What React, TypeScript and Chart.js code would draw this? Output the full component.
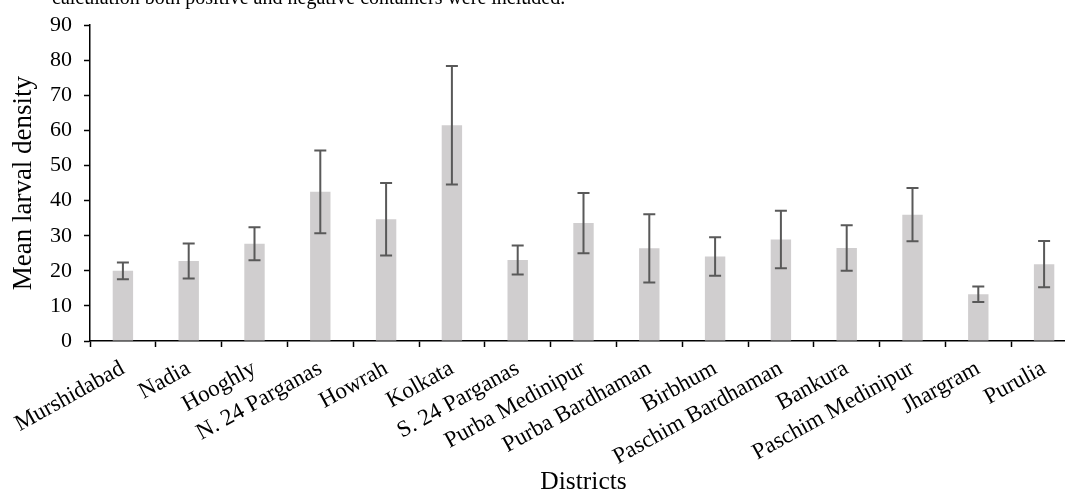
import React, { useEffect, useRef } from "react";
import { Chart, registerables } from "chart.js";

Chart.register(...registerables);

const districts = [
  "Murshidabad",
  "Nadia",
  "Hooghly",
  "N. 24 Parganas",
  "Howrah",
  "Kolkata",
  "S. 24 Parganas",
  "Purba Medinipur",
  "Purba Bardhaman",
  "Birbhum",
  "Paschim Bardhaman",
  "Bankura",
  "Paschim Medinipur",
  "Jhargram",
  "Purulia",
];

const meanDensity = [20.0, 22.8, 27.7, 42.5, 34.7, 61.5, 23.1, 33.6, 26.4, 24.1, 28.9, 26.5, 36.0, 13.3, 21.9];
const errorValues = [2.4, 5.0, 4.7, 11.8, 10.3, 16.9, 4.15, 8.6, 9.7, 5.5, 8.2, 6.5, 7.6, 2.2, 6.6];

const yTicks = [0, 10, 20, 30, 40, 50, 60, 70, 80, 90];

const captionTail = "calculation both positive and negative containers were included.";

const FONT = "'Liberation Serif', 'Times New Roman', serif";

const errorBarPlugin = {
  id: "errorBars",
  afterDatasetsDraw(chart: any) {
    const meta = chart.getDatasetMeta(0);
    const yScale = chart.scales.y;
    const ctx = chart.ctx;
    ctx.save();
    ctx.strokeStyle = "#595959";
    ctx.lineWidth = 2;
    meta.data.forEach((bar: any, i: number) => {
      const m = meanDensity[i];
      const e = errorValues[i];
      const x = bar.x;
      const yTop = yScale.getPixelForValue(m + e);
      const yBot = yScale.getPixelForValue(m - e);
      const cap = 6;
      ctx.beginPath();
      ctx.moveTo(x, yTop);
      ctx.lineTo(x, yBot);
      ctx.moveTo(x - cap, yTop);
      ctx.lineTo(x + cap, yTop);
      ctx.moveTo(x - cap, yBot);
      ctx.lineTo(x + cap, yBot);
      ctx.stroke();
    });
    ctx.restore();
  },
};

const captionPlugin = {
  id: "captionTail",
  afterDraw(chart: any) {
    const ctx = chart.ctx;
    ctx.save();
    ctx.fillStyle = "#000";
    ctx.font = `20px ${FONT}`;
    ctx.textAlign = "left";
    ctx.textBaseline = "alphabetic";
    ctx.fillText(captionTail, 52, 4);
    ctx.restore();
  },
};

export default function App() {
  const canvasRef = useRef<HTMLCanvasElement | null>(null);

  useEffect(() => {
    if (!canvasRef.current) return;
    const chart = new Chart(canvasRef.current, {
      type: "bar",
      data: {
        labels: districts,
        datasets: [
          {
            data: meanDensity,
            backgroundColor: "rgb(208,206,207)",
            borderWidth: 0,
            barPercentage: 0.31,
            categoryPercentage: 1,
          },
        ],
      },
      options: {
        responsive: false,
        animation: false,
        layout: { padding: { top: 12, right: 13, left: 0, bottom: 0 } },
        plugins: {
          legend: { display: false },
          tooltip: { enabled: false },
          title: { display: false },
        },
        scales: {
          x: {
            afterFit: (scale: any) => {
              scale.height = 149;
            },
            grid: {
              display: true,
              drawOnChartArea: false,
              drawTicks: true,
              tickLength: 6,
              tickColor: "#000",
              tickWidth: 1.5,
              offset: true,
            },
            border: { display: true, color: "#000", width: 1.5 },
            ticks: {
              color: "#000",
              font: { family: FONT, size: 23 },
              maxRotation: 29,
              minRotation: 29,
              autoSkip: false,
              padding: 8,
            },
            title: {
              display: true,
              text: "Districts",
              color: "#000",
              font: { family: FONT, size: 25.5 },
              padding: { top: 0, bottom: -8 },
            },
          },
          y: {
            min: 0,
            max: 90,
            afterBuildTicks: (scale: any) => {
              scale.ticks = yTicks.map((v) => ({ value: v }));
            },
            afterFit: (scale: any) => {
              scale.width = 90;
            },
            grid: {
              display: true,
              drawOnChartArea: false,
              drawTicks: true,
              tickLength: 6,
              tickColor: "#000",
              tickWidth: 1.5,
            },
            border: { display: true, color: "#000", width: 1.5 },
            ticks: {
              color: "#000",
              font: { family: FONT, size: 22 },
              padding: 12,
            },
            title: {
              display: true,
              text: "Mean larval density",
              color: "#000",
              font: { family: FONT, size: 27 },
              padding: { top: 8, bottom: 0 },
            },
          },
        },
      },
      plugins: [errorBarPlugin, captionPlugin],
    });
    return () => chart.destroy();
  }, []);

  return (
    <div
      style={{
        position: "fixed",
        left: 0,
        top: 0,
        width: 1065,
        height: 490,
        overflow: "hidden",
        background: "#fff",
      }}
    >
      <canvas
        ref={canvasRef}
        width={1090}
        height={490}
        style={{ position: "absolute", left: 0, top: 0, width: 1090, height: 490 }}
      />
    </div>
  );
}
